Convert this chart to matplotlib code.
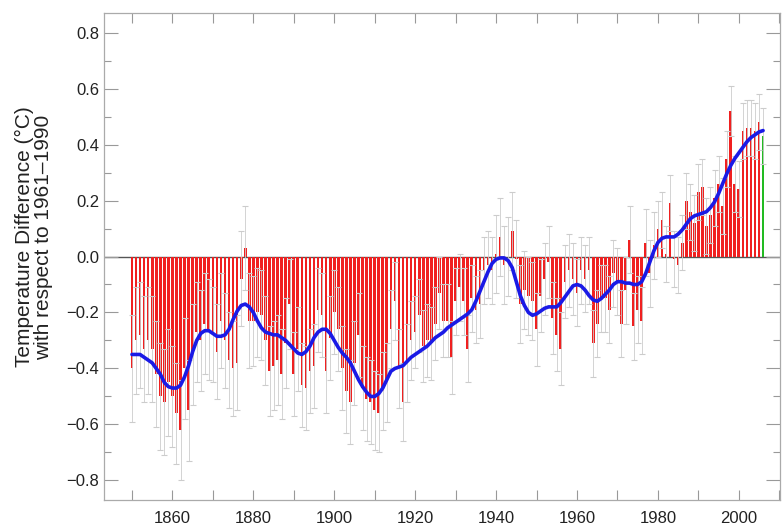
import matplotlib
matplotlib.use("Agg")
import matplotlib.pyplot as plt
import numpy as np
from matplotlib.ticker import MultipleLocator

plt.rcParams['font.family'] = ['Liberation Sans', 'DejaVu Sans']

years = list(range(1850, 2007))

anomaly = [
    -0.40, -0.30, -0.28, -0.33, -0.30, -0.33, -0.42, -0.50, -0.52, -0.45,
    -0.50, -0.56, -0.62, -0.40, -0.55, -0.35, -0.27, -0.30, -0.24, -0.26,
    -0.28, -0.34, -0.23, -0.30, -0.37, -0.40, -0.38, -0.08, 0.03, -0.23,
    -0.23, -0.20, -0.21, -0.30, -0.41, -0.39, -0.37, -0.42, -0.31, -0.17,
    -0.42, -0.33, -0.46, -0.47, -0.41, -0.39, -0.19, -0.21, -0.41, -0.29,
    -0.20, -0.26, -0.40, -0.48, -0.52, -0.38, -0.28, -0.47, -0.51, -0.52,
    -0.55, -0.56, -0.48, -0.45, -0.26, -0.16, -0.40, -0.52, -0.38, -0.30,
    -0.27, -0.21, -0.32, -0.30, -0.31, -0.24, -0.13, -0.23, -0.23, -0.36,
    -0.16, -0.11, -0.16, -0.33, -0.15, -0.19, -0.17, -0.05, -0.03, -0.05,
    0.01, 0.07, -0.03, 0.00, 0.09, -0.01, -0.17, -0.12, -0.14, -0.16,
    -0.26, -0.14, -0.08, -0.02, -0.22, -0.28, -0.33, -0.09, -0.05, -0.08,
    -0.13, -0.05, -0.08, -0.05, -0.31, -0.24, -0.15, -0.15, -0.19, -0.06,
    -0.09, -0.24, -0.12, 0.06, -0.25, -0.19, -0.23, 0.05, -0.06, 0.04,
    0.10, 0.13, 0.01, 0.19, -0.01, -0.03, 0.05, 0.20, 0.16, 0.12,
    0.23, 0.25, 0.11, 0.15, 0.21, 0.26, 0.18, 0.35, 0.52, 0.26,
    0.24, 0.45, 0.46, 0.46, 0.45, 0.48, 0.43,
]

uncert = [
    0.19, 0.19, 0.19, 0.19, 0.19, 0.19, 0.19, 0.19, 0.19, 0.19,
    0.18, 0.18, 0.18, 0.18, 0.18, 0.18, 0.18, 0.18, 0.18, 0.18,
    0.17, 0.17, 0.17, 0.17, 0.17, 0.17, 0.17, 0.17, 0.15, 0.17,
    0.16, 0.16, 0.16, 0.16, 0.16, 0.16, 0.16, 0.16, 0.16, 0.16,
    0.15, 0.15, 0.15, 0.15, 0.15, 0.15, 0.15, 0.15, 0.15, 0.15,
    0.15, 0.15, 0.15, 0.15, 0.15, 0.15, 0.15, 0.15, 0.15, 0.15,
    0.14, 0.14, 0.14, 0.14, 0.14, 0.14, 0.14, 0.14, 0.14, 0.14,
    0.13, 0.13, 0.13, 0.13, 0.13, 0.13, 0.13, 0.13, 0.13, 0.13,
    0.12, 0.12, 0.12, 0.12, 0.12, 0.12, 0.12, 0.12, 0.12, 0.12,
    0.14, 0.14, 0.14, 0.14, 0.14, 0.14, 0.14, 0.14, 0.14, 0.14,
    0.13, 0.13, 0.13, 0.13, 0.13, 0.13, 0.13, 0.13, 0.13, 0.13,
    0.12, 0.12, 0.12, 0.12, 0.12, 0.12, 0.12, 0.12, 0.12, 0.12,
    0.12, 0.12, 0.12, 0.12, 0.12, 0.12, 0.12, 0.12, 0.12, 0.12,
    0.10, 0.10, 0.10, 0.10, 0.10, 0.10, 0.10, 0.10, 0.10, 0.10,
    0.10, 0.10, 0.10, 0.10, 0.10, 0.10, 0.10, 0.10, 0.09, 0.10,
    0.10, 0.10, 0.10, 0.10, 0.10, 0.10, 0.10,
]

smooth = [
    -0.35, -0.35, -0.35, -0.36, -0.37, -0.38, -0.40, -0.42, -0.45, -0.465,
    -0.47, -0.47, -0.46, -0.43, -0.39, -0.34, -0.30, -0.275, -0.265, -0.265,
    -0.275, -0.285, -0.285, -0.28, -0.26, -0.225, -0.195, -0.175, -0.17, -0.18,
    -0.20, -0.23, -0.255, -0.27, -0.275, -0.28, -0.28, -0.29, -0.30, -0.315,
    -0.33, -0.345, -0.35, -0.34, -0.32, -0.29, -0.27, -0.26, -0.26, -0.275,
    -0.30, -0.325, -0.345, -0.36, -0.38, -0.41, -0.44, -0.465, -0.485, -0.50,
    -0.50, -0.49, -0.47, -0.44, -0.41, -0.40, -0.395, -0.39, -0.375, -0.36,
    -0.35, -0.34, -0.33, -0.32, -0.305, -0.29, -0.28, -0.27, -0.255, -0.245,
    -0.235, -0.225, -0.215, -0.205, -0.19, -0.16, -0.125, -0.09, -0.055, -0.025,
    -0.01, -0.005, -0.005, -0.015, -0.04, -0.09, -0.14, -0.175, -0.20, -0.21,
    -0.205, -0.195, -0.185, -0.18, -0.18, -0.18, -0.165, -0.145, -0.125, -0.105,
    -0.10, -0.105, -0.12, -0.14, -0.155, -0.16, -0.15, -0.135, -0.12, -0.10,
    -0.09, -0.09, -0.095, -0.095, -0.10, -0.10, -0.09, -0.06, -0.02, 0.02,
    0.05, 0.065, 0.07, 0.07, 0.07, 0.08, 0.095, 0.115, 0.135, 0.145,
    0.15, 0.155, 0.16, 0.175, 0.195, 0.225, 0.26, 0.295, 0.325, 0.35,
    0.37, 0.39, 0.41, 0.425, 0.435, 0.445, 0.45,
]

x_ticks = [1860, 1880, 1900, 1920, 1940, 1960, 1980, 2000]
y_ticks = [-0.8, -0.6, -0.4, -0.2, 0.0, 0.2, 0.4, 0.6, 0.8]

fig = plt.figure(figsize=(7.84, 5.26), dpi=100)
ax = fig.add_axes([0.1327, 0.0494, 0.995 - 0.1327, 0.9753 - 0.0494])

yrs = np.array(years)
vals = np.array(anomaly)
unc = np.array(uncert)
colors = ['#f02020'] * (len(years) - 1) + ['#22bb22']

ax.axhline(0, color='#555555', lw=1.0, zorder=1)
ax.bar(yrs, vals, width=0.66, color=colors, linewidth=0, zorder=2)
eb = ax.errorbar(yrs, vals, yerr=unc, fmt='none', ecolor='#cccccc',
                 elinewidth=0.6, capsize=2.0, capthick=0.8, zorder=3)
for cap in eb[1]:
    cap.set_color('#8a8a8a')
ax.plot(yrs, smooth, color='#1a1ae6', lw=2.6, zorder=4, solid_capstyle='round')

ax.set_xlim(1843.1, 2010.2)
ax.set_ylim(-0.87, 0.87)
ax.set_xticks(x_ticks)
ax.set_xticklabels([str(v) for v in x_ticks])
ax.xaxis.set_minor_locator(MultipleLocator(10))
ax.set_yticks(y_ticks)
ax.set_yticklabels([f"{v:.1f}".replace('-', '\u2212') for v in y_ticks])
ax.yaxis.set_minor_locator(MultipleLocator(0.1))

ax.tick_params(axis='both', which='both', direction='in', colors='#999999',
               labelcolor='#222222', labelsize=12, top=True, right=True)
ax.tick_params(axis='y', which='major', length=10, width=0.8)
ax.tick_params(axis='y', which='minor', length=5, width=0.8)
ax.tick_params(axis='x', which='major', length=7, width=0.8, pad=8)
ax.tick_params(axis='x', which='minor', length=7, width=0.8)
for s in ax.spines.values():
    s.set_color('#aaaaaa')
    s.set_linewidth(0.9)

ax.set_ylabel("Temperature Difference (\u00b0C)\nwith respect to 1961\u20131990",
              fontsize=15, color='#222222', linespacing=1.0)
ax.yaxis.set_label_coords(-0.075, 0.54)

fig.savefig("out.png", dpi=100)
